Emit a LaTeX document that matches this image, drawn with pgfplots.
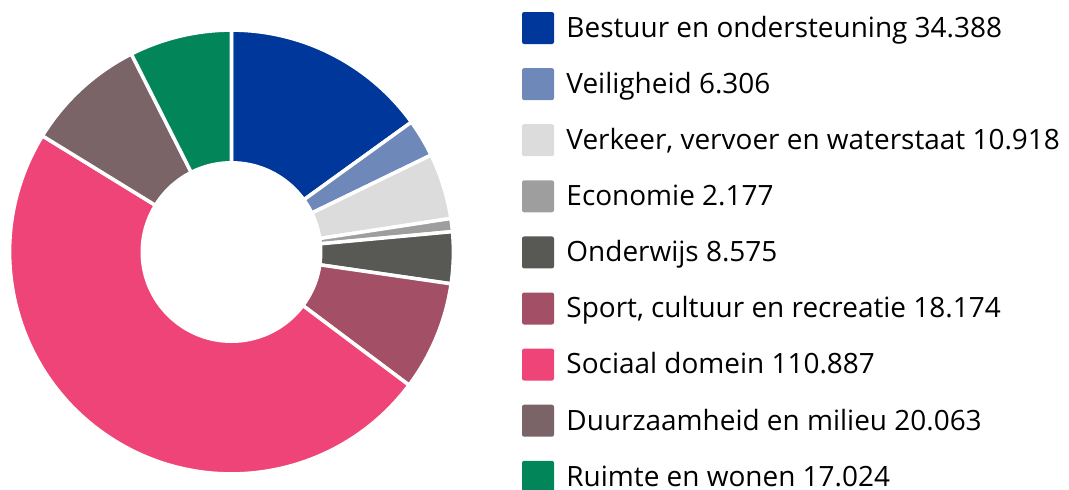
\documentclass[border=0pt]{standalone}
\usepackage{pgfplots}
\usepackage{pgfplotstable}
\pgfplotsset{compat=1.18}
\usepackage{fontspec}
\setmainfont{Open Sans}

\definecolor{c1}{HTML}{00379B}
\definecolor{c2}{HTML}{6F88BA}
\definecolor{c3}{HTML}{DCDCDC}
\definecolor{c4}{HTML}{9E9E9E}
\definecolor{c5}{HTML}{585954}
\definecolor{c6}{HTML}{A34F65}
\definecolor{c7}{HTML}{EE4478}
\definecolor{c8}{HTML}{7A6468}
\definecolor{c9}{HTML}{03855A}

% values in thousands
\pgfplotstableread[col sep=semicolon]{
name;value;col
Bestuur en ondersteuning;34.388;c1
Veiligheid;6.306;c2
Verkeer, vervoer en waterstaat;10.918;c3
Economie;2.177;c4
Onderwijs;8.575;c5
Sport, cultuur en recreatie;18.174;c6
Sociaal domein;110.887;c7
Duurzaamheid en milieu;20.063;c8
Ruimte en wonen;17.024;c9
}\budget

\begin{document}
\begin{tikzpicture}
\pgfplotstablegetrowsof{\budget}
\pgfmathtruncatemacro\lastrow{\pgfplotsretval-1}
\xdef\total{0}
\pgfplotsforeachungrouped \i in {0,...,\lastrow}{%
  \pgfplotstablegetelem{\i}{value}\of\budget
  \pgfmathparse{\total+\pgfplotsretval}\xdef\total{\pgfmathresult}}
\begin{axis}[
  name=ax,
  hide axis,
  scale only axis,
  width=16cm, height=7.31899cm,
  xmin=0, xmax=1069, ymin=0, ymax=489,
  clip=false,
]
\addplot[draw=none] coordinates {(0,0) (1069,489)};
\xdef\angA{90}
\pgfplotsforeachungrouped \i in {0,...,\lastrow}{%
  \pgfplotstablegetelem{\i}{value}\of\budget \let\v\pgfplotsretval
  \pgfplotstablegetelem{\i}{col}\of\budget \let\c\pgfplotsretval
  \pgfplotstablegetelem{\i}{name}\of\budget \let\nm\pgfplotsretval
  \pgfmathparse{\angA-\v/\total*360}\let\angB\pgfmathresult
  \pgfmathparse{489-28-56.1*\i}\let\yc\pgfmathresult
  \pgfmathparse{\yc-16}\let\ya\pgfmathresult
  \pgfmathparse{\yc+16}\let\yb\pgfmathresult
  \pgfmathparse{\yc-9.3}\let\ybase\pgfmathresult
  \edef\cmd{%
    \noexpand\fill[\c, draw=white, line width=1.5pt, line join=round]
      (axis cs:231.5,237) -- ([shift={(\angA:94.5pt)}]axis cs:231.5,237)
      arc[start angle=\angA, end angle=\angB, radius=94.5pt] -- cycle;
    \noexpand\fill[\c, rounded corners=0.9pt] (axis cs:522,\ya) rectangle (axis cs:554,\yb);
    \noexpand\node[anchor=base west, inner sep=0pt, font=\noexpand\fontsize{11.9pt}{14pt}\noexpand\selectfont, text=black]
      at (axis cs:566,\ybase) {\nm\space\noexpand\pgfmathprintnumber[assume math mode=true, fixed, fixed zerofill, precision=3]{\v}};
  }%
  \cmd
  \xdef\angA{\angB}
}
\fill[white] (axis cs:231.5,237) circle[radius=38.75pt];
\end{axis}
\pgfresetboundingbox
\useasboundingbox (ax.south west) rectangle (ax.north east);
\end{tikzpicture}
\end{document}
